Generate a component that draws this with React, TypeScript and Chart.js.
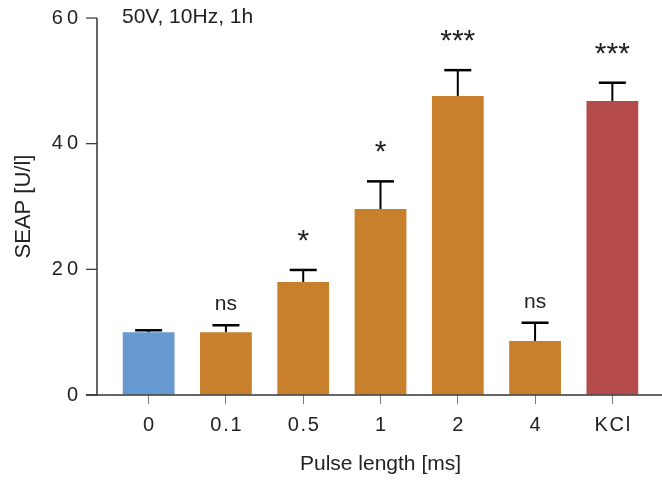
import React, { useEffect, useRef } from "react";
import { Chart, registerables } from "chart.js";

Chart.register(...registerables);

const categories = ["0", "0.1", "0.5", "1", "2", "4", "KCl"];
const seapMeans = [10.0, 10.0, 18.0, 29.6, 47.6, 8.6, 46.8];
const seapErrors = [0.3, 1.1, 1.9, 4.4, 4.1, 2.9, 2.9];
const significance = ["", "ns", "*", "*", "***", "ns", "***"];
const barColors = ["#6699CF", "#C9802C", "#C9802C", "#C9802C", "#C9802C", "#C9802C", "#B54A4A"];
const yTicks = [0, 20, 40, 60];
const conditionLabel = "50V, 10Hz, 1h";
const xTitle = "Pulse length [ms]";
const yTitle = "SEAP [U/l]";

const FONT = "'Liberation Sans', Arial, Helvetica, sans-serif";
const TEXT = "#222";

const overlay = {
  id: "overlay",
  afterDatasetsDraw(chart: any) {
    const { ctx, chartArea, scales } = chart;
    const y = scales.y;
    const meta = chart.getDatasetMeta(0);
    ctx.save();

    // error bars + significance
    meta.data.forEach((bar: any, i: number) => {
      const x = bar.x;
      const yTop = y.getPixelForValue(seapMeans[i]);
      const yCap = y.getPixelForValue(seapMeans[i] + seapErrors[i]);
      ctx.strokeStyle = "#000";
      ctx.lineWidth = 2;
      ctx.beginPath();
      ctx.moveTo(x, yTop);
      ctx.lineTo(x, yCap);
      ctx.stroke();
      ctx.lineWidth = 2.5;
      ctx.beginPath();
      ctx.moveTo(x - 13.5, yCap);
      ctx.lineTo(x + 13.5, yCap);
      ctx.stroke();
      const s = significance[i];
      if (s) {
        const stars = s.startsWith("*");
        ctx.fillStyle = TEXT;
        ctx.font = stars ? `30px ${FONT}` : `21px ${FONT}`;
        ctx.textAlign = "center";
        ctx.textBaseline = "alphabetic";
        ctx.fillText(s, x, yCap - (stars ? 20 : 15));
      }
    });

    // axes
    const axisX = chartArea.left - 13;
    ctx.strokeStyle = "#333";
    ctx.lineWidth = 1.5;
    ctx.beginPath();
    ctx.moveTo(axisX, chartArea.top);
    ctx.lineTo(axisX, chartArea.bottom);
    ctx.stroke();
    ctx.lineWidth = 1.2;
    yTicks.forEach((v) => {
      const py = y.getPixelForValue(v);
      ctx.beginPath();
      ctx.moveTo(axisX - 11, py);
      ctx.lineTo(axisX, py);
      ctx.stroke();
    });
    ctx.lineWidth = 1.5;
    ctx.beginPath();
    ctx.moveTo(axisX - 11, chartArea.bottom);
    ctx.lineTo(chart.width, chartArea.bottom);
    ctx.stroke();

    // condition label
    ctx.fillStyle = TEXT;
    ctx.font = `21px ${FONT}`;
    ctx.textAlign = "left";
    ctx.textBaseline = "alphabetic";
    ctx.fillText(conditionLabel, axisX + 25, chartArea.top + 5);

    ctx.restore();
  },
};

export default function App() {
  const canvasRef = useRef<HTMLCanvasElement | null>(null);

  useEffect(() => {
    const canvas = canvasRef.current;
    if (!canvas) return;
    const chart = new Chart(canvas, {
      type: "bar",
      data: {
        labels: categories,
        datasets: [
          {
            data: seapMeans,
            backgroundColor: barColors,
            borderWidth: 0,
            barPercentage: 0.67,
            categoryPercentage: 1,
          },
        ],
      },
      options: {
        responsive: false,
        animation: false,
        layout: { padding: { top: 18, right: 11, left: 0, bottom: 0 } },
        plugins: {
          legend: { display: false },
          tooltip: { enabled: false },
          title: { display: false },
        },
        scales: {
          x: {
            offset: true,
            grid: {
              display: true,
              drawOnChartArea: false,
              offset: false,
              tickLength: 9,
              color: "#777",
              lineWidth: 1,
            },
            border: { display: false },
            ticks: {
              padding: 9,
              color: TEXT,
              font: { family: FONT, size: 20 },
              callback: (_v: any, i: number) => categories[i].split("").join("\u200A"),
            },
            title: {
              display: true,
              text: xTitle,
              color: TEXT,
              font: { family: FONT, size: 21 },
              padding: { top: 0, bottom: 7 },
            },
            afterFit: (s: any) => {
              s.height = 89;
            },
          },
          y: {
            min: 0,
            max: 60,
            grid: {
              display: true,
              drawOnChartArea: false,
              color: "rgba(0,0,0,0)",
              tickLength: 29,
            },
            border: { display: false },
            afterBuildTicks: (s: any) => {
              s.ticks = yTicks.map((v) => ({ value: v }));
            },
            ticks: {
              padding: 3,
              color: TEXT,
              font: { family: FONT, size: 20 },
              callback: (v: any) => String(v).split("").join("\u2009"),
            },
            title: {
              display: true,
              text: yTitle,
              color: TEXT,
              font: { family: FONT, size: 22 },
              padding: { top: 11, bottom: 0 },
            },
            afterFit: (s: any) => {
              s.width = 110;
            },
          },
        },
      },
      plugins: [overlay],
    } as any);
    return () => chart.destroy();
  }, []);

  return (
    <div style={{ position: "absolute", left: 0, top: 0, width: 662, height: 484, background: "#fff" }}>
      <canvas ref={canvasRef} width={662} height={484} />
    </div>
  );
}
